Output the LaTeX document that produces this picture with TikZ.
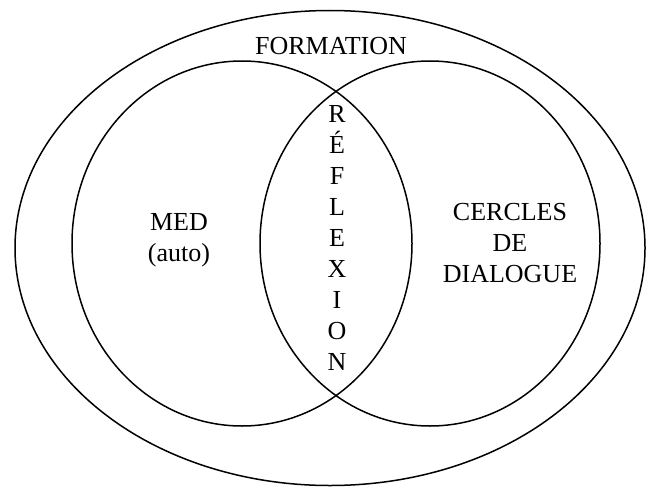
\documentclass[tikz,border=0pt]{standalone}
\usepackage{fontspec}
\setmainfont{Liberation Serif}
\usetikzlibrary{shapes.geometric}
\begin{document}
\begin{tikzpicture}[x=1pt,y=-1pt,
  ring/.style={draw=black, line width=1.5pt, ellipse, inner sep=0pt, fill=none},
  label/.style={font=\fontsize{26}{31}\selectfont, align=center, inner sep=0pt}]
\useasboundingbox (0,0) rectangle (647,487);
% outer field and the two overlapping circles
\node[ring, minimum width=630pt, minimum height=475pt] (formation) at (330,248) {};
\node[ring, minimum width=340pt, minimum height=365pt] (med) at (242,243.5) {};
\node[ring, minimum width=340pt, minimum height=365pt] (cercles) at (430,243.5) {};
% labels
\node[label] (tformation) at (331,46) {FORMATION};
\node[label] (tmed) at (179,240) {MED\\(auto)};
\node[label] (tcercles) at (510,243) {CERCLES\\DE\\DIALOGUE};
\node[label] (treflexion) at (337,238) {R\\É\\F\\L\\E\\X\\I\\O\\N};
\end{tikzpicture}
\end{document}
